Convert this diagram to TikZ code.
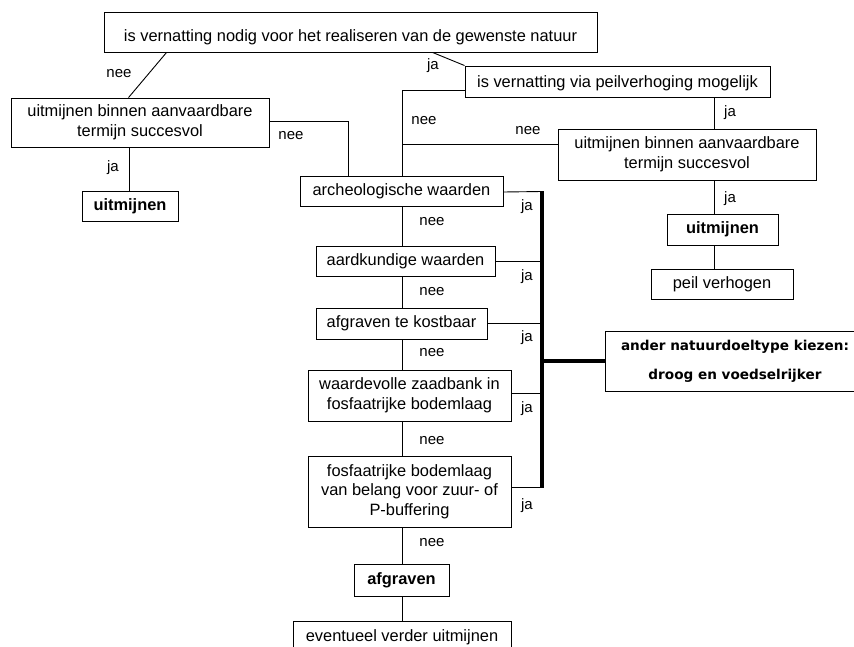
\documentclass[tikz,border=0pt]{standalone}
\usepackage{fontspec}
\setmainfont{Liberation Sans}
\newfontfamily\vfont{DejaVu Sans}
\usetikzlibrary{calc}
\begin{document}
\begin{tikzpicture}[x=1pt,y=-1pt,
 box/.style={draw, line width=0.9pt, inner sep=0pt, align=center, font=\fontsize{16.4}{19.5}\selectfont},
 bbox/.style={box, font=\fontsize{16.4}{19.5}\selectfont\bfseries},
 lab/.style={inner sep=0pt, font=\fontsize{15}{18}\selectfont},
 conn/.style={line width=0.9pt},
 bar/.style={line width=3.6pt}]
\useasboundingbox (0,0) rectangle (854,647);
% boxes
\node[box, minimum width=493pt, minimum height=40pt] (top) at (350.5,32) {\raisebox{-9.3pt}[0pt][0pt]{is vernatting nodig voor het realiseren van de gewenste natuur}};
\node[box, minimum width=258pt, minimum height=49pt] (left1) at (140,122.5) {uitmijnen binnen aanvaardbare\\termijn succesvol};
\node[bbox, minimum width=96pt, minimum height=30pt] (uitm1) at (130,206) {uitmijnen};
\node[box, minimum width=305pt, minimum height=31pt] (peilq) at (617.5,81.5) {\raisebox{-5.8pt}[0pt][0pt]{is vernatting via peilverhoging mogelijk}};
\node[box, minimum width=258pt, minimum height=51pt] (left2) at (687,154.5) {uitmijnen binnen aanvaardbare\\termijn succesvol};
\node[bbox, minimum width=111pt, minimum height=31pt] (uitm2) at (722.5,229.5) {uitmijnen};
\node[box, minimum width=142pt, minimum height=30pt] (peil) at (722,284) {peil verhogen};
\node[box, minimum width=203pt, minimum height=30pt] (arch) at (401.5,191) {archeologische waarden};
\node[box, minimum width=179pt, minimum height=30pt] (aard) at (405.5,261) {aardkundige waarden};
\node[box, minimum width=171pt, minimum height=31pt] (afgk) at (401.5,323.5) {afgraven te kostbaar};
\node[box, minimum width=203pt, minimum height=51pt] (zaad) at (409.5,395.5) {waardevolle zaadbank in\\fosfaatrijke bodemlaag};
\node[box, minimum width=203pt, minimum height=71pt] (fosf) at (409.5,491.5) {fosfaatrijke bodemlaag\\van belang voor zuur- of\\P-buffering};
\node[bbox, minimum width=95pt, minimum height=32pt] (afgr) at (401.5,580) {afgraven};
\node[box, minimum width=218pt, minimum height=32pt] (even) at (402,637) {eventueel verder uitmijnen};
\node[draw, line width=0.9pt, inner sep=0pt, align=center, minimum width=260pt, minimum height=60pt,
      font=\vfont\bfseries\fontsize{13.6}{29}\selectfont] (ander) at (735,361) {ander natuurdoeltype kiezen:\\droog en voedselrijker};
% helper coordinates
\coordinate (sp) at (402,0);
\coordinate (cA) at (348,0);
\coordinate (cR) at (714,0);
\coordinate (cL) at (129,0);
\coordinate (bartop) at (542,191.5);
\coordinate (barbot) at (542,487.5);
% connectors
\draw[conn] ($(top.south west)+(63,0)$) -- ($(left1.north west)+(118,0)$);
\draw[conn] (left1.south -| cL) -- (uitm1.north -| cL);
\draw[conn] ($(left1.east)+(0,-1.5)$) -| (arch.north -| cA);
\draw[conn] ($(top.south west)+(329,0)$) -- (peilq.north west);
\draw[conn] ($(peilq.west)+(0,8.5)$) -| (arch.north -| sp);
\draw[conn] ($(left2.west)+(0,-10.5)$) -- ($(left2.west -| sp)+(0,-10.5)$);
\draw[conn] (peilq.south -| cR) -- (left2.north -| cR);
\draw[conn] (left2.south -| cR) -- (uitm2.north -| cR);
\draw[conn] (uitm2.south -| cR) -- (peil.north -| cR);
\draw[conn] (arch.south -| sp) -- (aard.north -| sp);
\draw[conn] (aard.south -| sp) -- (afgk.north -| sp);
\draw[conn] (afgk.south -| sp) -- (zaad.north -| sp);
\draw[conn] (zaad.south -| sp) -- (fosf.north -| sp);
\draw[conn] (fosf.south -| sp) -- (afgr.north -| sp);
\draw[conn] (afgr.south -| sp) -- (even.north -| sp);
% to the bar
\draw[conn] ($(arch.east)+(0,1)$) -- (bartop);
\draw[conn] (aard.east) -- (aard.east -| bartop);
\draw[conn] (afgk.east) -- (afgk.east -| bartop);
\draw[conn] ($(zaad.east)+(0,-2)$) -- ($(zaad.east -| bartop)+(0,-2)$);
\draw[conn] (fosf.east |- barbot) -- (barbot);
\draw[bar] (bartop) -- (barbot);
\draw[bar] (ander.west -| bartop) -- (ander.west);
% labels
\node[lab] (l1) at (119,74) {nee};
\node[lab] (l2) at (113,168) {ja};
\node[lab] (l3) at (291,136) {nee};
\node[lab] (l4) at (433,66) {ja};
\node[lab] (l5) at (424,121) {nee};
\node[lab] (l6) at (528,131) {nee};
\node[lab] (l7) at (730,113) {ja};
\node[lab] (l8) at (730,199) {ja};
\node[lab] (n1) at (432,222) {nee};
\node[lab] (n2) at (432,292) {nee};
\node[lab] (n3) at (432,353) {nee};
\node[lab] (n4) at (432,441) {nee};
\node[lab] (n5) at (432,543) {nee};
\node[lab] (j1) at (527,207) {ja};
\node[lab] (j2) at (527,277) {ja};
\node[lab] (j3) at (527,338) {ja};
\node[lab] (j4) at (527,409) {ja};
\node[lab] (j5) at (527,506) {ja};
\end{tikzpicture}
\end{document}
